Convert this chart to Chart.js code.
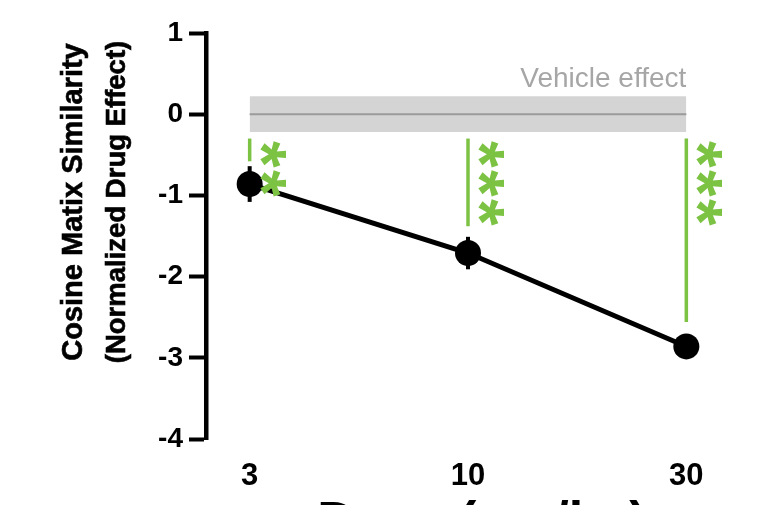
<!DOCTYPE html>
<html>
<head>
<meta charset="utf-8">
<script src="https://cdn.jsdelivr.net/npm/chart.js@4.4.0/dist/chart.umd.min.js"></script>
<style>
  html, body { margin: 0; padding: 0; background: #ffffff; }
  #wrap { width: 783px; height: 505px; }
  canvas { display: block; }
</style>
</head>
<body>
<div id="wrap"><canvas id="c" width="783" height="505"></canvas></div>
<script>
// Dose groups (mg/kg) and the normalized drug effect per group
const doseLabels = ['3', '10', '30'];
const meanEffect = [-0.86, -1.71, -2.86];
const semEffect = [0.22, 0.20, 0.05];

// Vehicle reference: mean 0 with its spread
const vehicleMean = 0;
const vehicleBand = [-0.22, 0.22];

// Significance vs vehicle: bar extent and number of stars per dose
const sigBarTop = [-0.30, -0.30, -0.30];
const sigBarBottom = [-0.58, -1.38, -2.56];
const sigStars = [2, 3, 3];

// Y axis ticks
const yTicks = [1, 0, -1, -2, -3, -4];

const FONT = '"Liberation Sans", Arial, Helvetica, sans-serif';
const GREEN = '#7cc243';

const xIdx = doseLabels.map((_, i) => i);

const overlay = {
  id: 'overlay',
  afterDatasetsDraw(chart) {
    const ctx = chart.ctx;
    const xs = chart.scales.x, ys = chart.scales.y;
    ctx.save();
    // error bars (SEM)
    ctx.strokeStyle = '#000';
    ctx.lineWidth = 4;
    ctx.lineCap = 'butt';
    xIdx.forEach(i => {
      const px = xs.getPixelForValue(i);
      ctx.beginPath();
      ctx.moveTo(px, ys.getPixelForValue(meanEffect[i] + semEffect[i]));
      ctx.lineTo(px, ys.getPixelForValue(meanEffect[i] - semEffect[i]));
      ctx.stroke();
    });
    // significance bars
    ctx.strokeStyle = GREEN;
    ctx.lineWidth = 3.5;
    xIdx.forEach(i => {
      const px = xs.getPixelForValue(i);
      ctx.beginPath();
      ctx.moveTo(px, ys.getPixelForValue(sigBarTop[i]));
      ctx.lineTo(px, ys.getPixelForValue(sigBarBottom[i]));
      ctx.stroke();
    });
    // significance stars, written sideways along each bar
    ctx.fillStyle = GREEN;
    ctx.font = 'bold 68px ' + FONT;
    ctx.textAlign = 'left';
    ctx.textBaseline = 'alphabetic';
    const m = ctx.measureText('*');
    const inkCx = (m.actualBoundingBoxRight - m.actualBoundingBoxLeft) / 2;
    const inkCy = (m.actualBoundingBoxDescent - m.actualBoundingBoxAscent) / 2;
    xIdx.forEach(i => {
      const px = xs.getPixelForValue(i) + 23;
      const top = ys.getPixelForValue(sigBarTop[i]);
      for (let k = 0; k < sigStars[i]; k++) {
        ctx.save();
        ctx.translate(px, top + 16 + 29 * k);
        ctx.rotate(Math.PI / 2);
        ctx.fillText('*', -inkCx, -inkCy);
        ctx.restore();
      }
    });
    ctx.restore();
  },
  afterDraw(chart) {
    const ctx = chart.ctx;
    const xs = chart.scales.x, ys = chart.scales.y;
    const area = chart.chartArea;
    ctx.save();
    // vehicle label
    ctx.fillStyle = '#a6a6a6';
    ctx.font = '28px ' + FONT;
    ctx.textAlign = 'right';
    ctx.textBaseline = 'alphabetic';
    ctx.fillText('Vehicle effect', xs.getPixelForValue(2), ys.getPixelForValue(vehicleBand[1]) - 9);
    // y axis title, two lines
    ctx.fillStyle = '#000';
    ctx.strokeStyle = '#000';
    ctx.lineWidth = 0.6;
    ctx.font = 'bold 29px ' + FONT;
    ctx.textAlign = 'center';
    ctx.translate(82, 202);
    ctx.rotate(-Math.PI / 2);
    ctx.fillText('Cosine Matix Similarity', 0, 0);
    ctx.strokeText('Cosine Matix Similarity', 0, 0);
    ctx.font = 'bold 27.5px ' + FONT;
    ctx.fillText('(Normalized Drug Effect)', 0, 43);
    ctx.strokeText('(Normalized Drug Effect)', 0, 43);
    ctx.restore();
    // x axis title
    ctx.save();
    ctx.fillStyle = '#000';
    ctx.font = 'bold 52px ' + FONT;
    ctx.textAlign = 'center';
    ctx.textBaseline = 'alphabetic';
    ctx.fillText('Dose (mg/kg)', (area.left + area.right) / 2 + 14, 538);
    ctx.restore();
  }
};

new Chart(document.getElementById('c'), {
  type: 'line',
  data: {
    datasets: [
      {
        label: 'Drug',
        data: xIdx.map(i => ({ x: i, y: meanEffect[i] })),
        borderColor: '#000',
        borderWidth: 5,
        pointRadius: 13,
        pointBackgroundColor: '#000',
        pointBorderWidth: 0,
        fill: false,
        tension: 0
      },
      {
        label: 'Vehicle mean',
        data: [{ x: 0, y: vehicleMean }, { x: 2, y: vehicleMean }],
        borderColor: '#9b9b9b',
        borderWidth: 2,
        pointRadius: 0,
        fill: false
      },
      {
        label: 'Vehicle upper',
        data: [{ x: 0, y: vehicleBand[1] }, { x: 2, y: vehicleBand[1] }],
        borderWidth: 0,
        borderColor: 'rgba(0,0,0,0)',
        pointRadius: 0,
        backgroundColor: '#d4d4d4',
        fill: '+1'
      },
      {
        label: 'Vehicle lower',
        data: [{ x: 0, y: vehicleBand[0] }, { x: 2, y: vehicleBand[0] }],
        borderWidth: 0,
        borderColor: 'rgba(0,0,0,0)',
        pointRadius: 0,
        fill: false
      }
    ]
  },
  options: {
    responsive: false,
    devicePixelRatio: 1,
    animation: false,
    layout: { autoPadding: false, padding: { top: 33, right: 53, left: 0, bottom: 0 } },
    plugins: { legend: { display: false }, tooltip: { enabled: false } },
    scales: {
      x: {
        type: 'linear',
        min: -0.2,
        max: 2.2,
        afterBuildTicks(scale) { scale.ticks = xIdx.map(i => ({ value: i })); },
        afterFit(scale) { scale.height = 66; },
        grid: { display: false },
        border: { display: false },
        ticks: {
          callback: v => doseLabels[v],
          color: '#000',
          font: { family: FONT, weight: 'bold', size: 31 },
          padding: 11,
          maxRotation: 0,
          autoSkip: false
        }
      },
      y: {
        min: -4,
        max: 1,
        afterBuildTicks(scale) { scale.ticks = yTicks.map(v => ({ value: v })); },
        afterFit(scale) { scale.width = 206; },
        grid: {
          drawOnChartArea: false,
          drawTicks: true,
          tickLength: 17,
          tickWidth: 4,
          tickColor: '#000'
        },
        border: { display: true, color: '#000', width: 4.5 },
        ticks: {
          color: '#000',
          font: { family: FONT, weight: 'bold', size: 28 },
          padding: 6,
          callback: v => String(v)
        }
      }
    }
  },
  plugins: [overlay]
});
</script>
</body>
</html>
